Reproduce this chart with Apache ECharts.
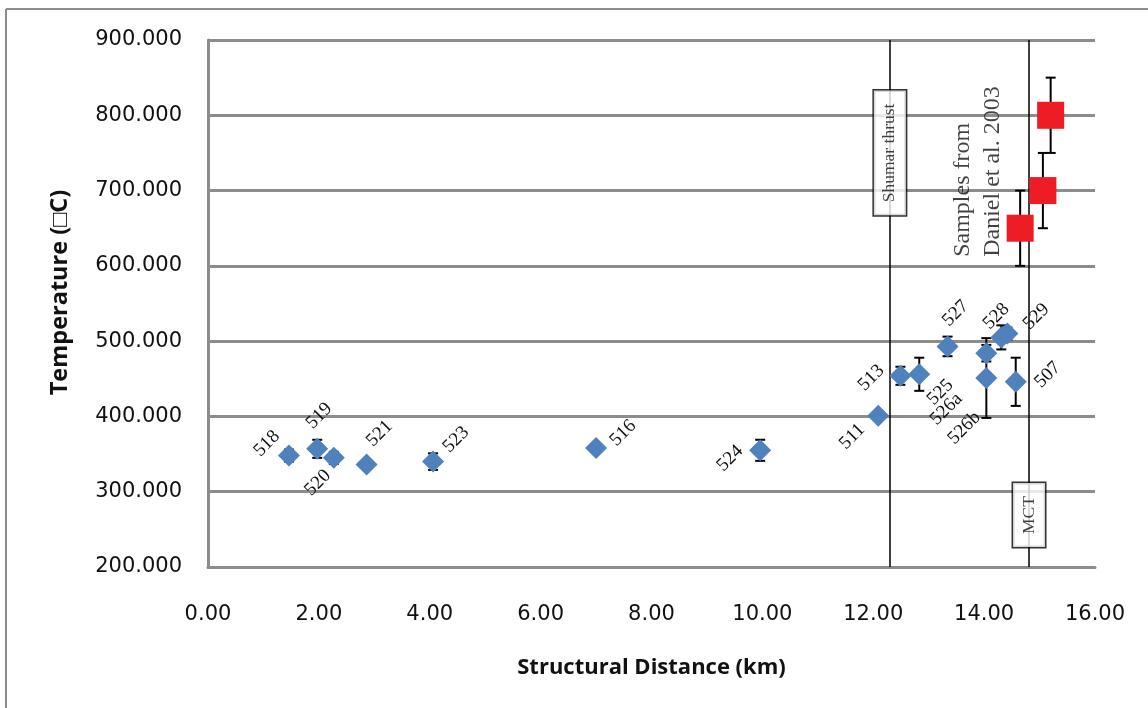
<!DOCTYPE html>
<html>
<head>
<meta charset="utf-8">
<script src="https://cdn.jsdelivr.net/npm/echarts@6/dist/echarts.min.js"></script>
<style>
html,body{margin:0;padding:0;background:#fff;}
#main{width:1148px;height:708px;}
</style>
</head>
<body>
<div id="main"></div>
<script>
// ---- data ----
const blueLabels = ['518','519','520','521','523','516','524','511','513','525','527','526a','526b','528','529','507'];
const blueX = [1.46,1.97,2.27,2.86,4.06,7.00,9.96,12.09,12.49,12.83,13.34,14.04,14.04,14.31,14.42,14.57];
const blueY = [348,357,345,336,340,358,355,401,454,456,493,484,451,505,510,446];
const blueErr = [8,12,8,5,11,0,14,0,12,22,13,11,53,16,8,32];
const redX = [14.65,15.06,15.20];
const redY = [650,700,800];
const redErr = [50,50,50];
const faultNames = ['Shumar thrust','MCT'];
const faultX = [12.30,14.81];
const faultLabelY = [750,269];
const noteText = ['Samples from','Daniel et al. 2003'];
const notePos = [13.89,612];
const xTicks = {min:0,max:16,interval:2};
const yTicks = {min:200,max:900,interval:100};
const xTitle = 'Structural Distance (km)';
const yTitle = 'Temperature (\u25A1C)';

// ---- label layout (desired screen offsets, px) ----
const labelOffsets = {
  '518':[-22,-12],'519':[2,-33],'520':[-16,25],'521':[13,-31],'523':[23,-22],
  '516':[27,-15],'524':[-30,8],'511':[-26,21],'513':[-29,2],'525':[21,18],
  '527':[8,-33],'526a':[-40,56],'526b':[-22,50],'528':[-5,-21],'529':[29,-17],'507':[32,-7]
};
const LABEL_ROT = 45;
function toLocal(o){
  const t = LABEL_ROT*Math.PI/180, c=Math.cos(t), s=Math.sin(t);
  return [o[0]*c - o[1]*s, o[0]*s + o[1]*c];
}

const blueData = blueX.map((x,i)=>({
  value:[x,blueY[i]], name:blueLabels[i],
  label:{offset:toLocal(labelOffsets[blueLabels[i]])}
}));
const redData = redX.map((x,i)=>[x,redY[i]]);
const errData = [];
blueX.forEach((x,i)=>{ if(blueErr[i]>0) errData.push([x,blueY[i]-blueErr[i],blueY[i]+blueErr[i]]); });
redX.forEach((x,i)=>{ errData.push([x,redY[i]-redErr[i],redY[i]+redErr[i]]); });

const chart = echarts.init(document.getElementById('main'), null, {renderer:'canvas'});
const gray = '#8c8c8c';
const tickFont = {fontFamily:'DejaVu Sans', fontSize:21, color:'#111'};
const serif = 'Liberation Serif';

chart.setOption({
  animation:false,
  backgroundColor:'#fff',
  grid:{left:208,right:53,top:40,bottom:141},
  graphic:[
    {type:'line',shape:{x1:6,y1:9,x2:1148,y2:9},style:{stroke:gray,lineWidth:2},z:100},
    {type:'line',shape:{x1:6,y1:9,x2:6,y2:708},style:{stroke:gray,lineWidth:2},z:100}
  ],
  xAxis:{
    type:'value',min:xTicks.min,max:xTicks.max,interval:xTicks.interval,
    axisLine:{show:true,onZero:false,lineStyle:{color:gray,width:3}},
    axisTick:{show:false},
    splitLine:{show:false},
    axisLabel:Object.assign({margin:37,formatter:v=>v.toFixed(2)},tickFont),
    name:xTitle,nameLocation:'middle',nameGap:90,
    nameTextStyle:{fontFamily:'Open Sans',fontWeight:'bold',fontSize:22,color:'#111'}
  },
  yAxis:{
    type:'value',min:yTicks.min,max:yTicks.max,interval:yTicks.interval,
    axisLine:{show:true,lineStyle:{color:gray,width:3}},
    axisTick:{show:false},
    splitLine:{show:true,lineStyle:{color:gray,width:3}},
    axisLabel:Object.assign({margin:26,formatter:v=>v.toFixed(3)},tickFont),
    name:yTitle,nameLocation:'middle',nameGap:136,
    nameTextStyle:{fontFamily:'Open Sans',fontWeight:'bold',fontSize:23.5,color:'#111',padding:[0,0,0,22]}
  },
  series:[
    {
      type:'custom',z:3,silent:true,
      data:errData,
      renderItem:function(params,api){
        const x=api.value(0),lo=api.value(1),hi=api.value(2);
        const p1=api.coord([x,hi]),p2=api.coord([x,lo]);
        const w=5;
        const st={stroke:'#000',lineWidth:2};
        return {type:'group',children:[
          {type:'line',shape:{x1:p1[0],y1:p1[1],x2:p2[0],y2:p2[1]},style:st},
          {type:'line',shape:{x1:p1[0]-w,y1:p1[1],x2:p1[0]+w,y2:p1[1]},style:st},
          {type:'line',shape:{x1:p2[0]-w,y1:p2[1],x2:p2[0]+w,y2:p2[1]},style:st}
        ]};
      }
    },
    {
      type:'scatter',z:2,silent:true,
      data:[],
      markLine:{
        silent:true,symbol:['none','none'],
        lineStyle:{color:'#000',width:1.5,type:'solid'},
        label:{show:false},
        data:faultX.map(x=>({xAxis:x}))
      }
    },
    {
      type:'scatter',z:5,
      symbol:'diamond',symbolSize:22,
      itemStyle:{color:'#4f81bd',opacity:1},
      data:blueData,
      label:{
        show:true,position:'inside',rotate:LABEL_ROT,
        formatter:p=>p.name,
        fontFamily:serif,fontSize:19,color:'#111',
        align:'center',verticalAlign:'middle'
      }
    },
    {
      type:'scatter',z:5,
      symbol:'rect',symbolSize:27,
      itemStyle:{color:'#ee1c25',opacity:1},
      data:redData
    },
    {
      type:'scatter',z:6,silent:true,
      symbolSize:1,itemStyle:{color:'rgba(0,0,0,0)'},
      data:faultX.map((x,i)=>({value:[x,faultLabelY[i]],name:faultNames[i]})),
      label:{
        show:true,position:'inside',rotate:90,
        formatter:p=>p.name,
        fontFamily:serif,fontSize:17.5,color:'#111',
        backgroundColor:'#fff',borderColor:'#000',borderWidth:1.5,
        padding:[7,13],align:'center',verticalAlign:'middle'
      }
    },
    {
      type:'scatter',z:6,silent:true,
      symbolSize:1,itemStyle:{color:'rgba(0,0,0,0)'},
      data:[{value:notePos,name:noteText.join('\n')}],
      label:{
        show:true,position:'inside',rotate:90,
        formatter:p=>p.name,
        fontFamily:serif,fontSize:24,lineHeight:30,color:'#111',
        align:'left',verticalAlign:'middle'
      }
    }
  ]
});
</script>
</body>
</html>
